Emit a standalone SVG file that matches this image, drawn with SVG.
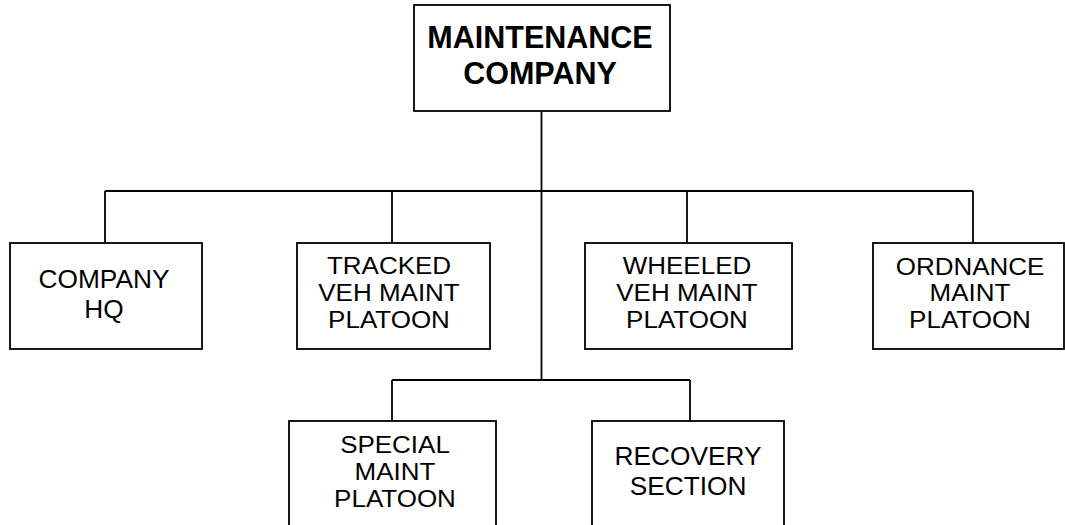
<svg xmlns="http://www.w3.org/2000/svg" width="1065" height="525" viewBox="0 0 1065 525">
<style>
.box{fill:#fff;stroke:#000;stroke-width:1.8}
.ln{fill:none;stroke:#000;stroke-width:1.8}
text{font-family:"Liberation Sans",Arial,sans-serif;fill:#000;text-anchor:middle}
.t{font-size:25.5px}
.s{font-size:23px}
.b{font-size:30.5px;font-weight:bold}
</style>
<rect width="1065" height="525" fill="#fff"/>
<g id="connectors">
<path class="ln" d="M541.5,111 V380"/>
<path class="ln" d="M105,191 H973"/>
<path class="ln" d="M105,191 V243 M392,191 V243 M687,191 V243 M973,191 V243"/>
<path class="ln" d="M392,380 H690 M392,380 V421 M690,380 V421"/>
</g>
<g id="maintenance-company">
<rect class="box" x="414" y="5" width="256" height="106"/>
<text class="b" x="540" y="48">MAINTENANCE</text>
<text class="b" x="540" y="84">COMPANY</text>
</g>
<g id="company-hq">
<rect class="box" x="10" y="243" width="192" height="106"/>
<g transform="translate(104,0) scale(1.03,1)">
<text class="t" x="0" y="288">COMPANY</text>
<text class="t" x="0" y="318">HQ</text>
</g>
</g>
<g id="tracked">
<rect class="box" x="297" y="243" width="193" height="106"/>
<g transform="translate(389,0) scale(1.13,1)">
<text class="s" x="0" y="274">TRACKED</text>
<text class="s" x="0" y="301">VEH MAINT</text>
<text class="s" x="0" y="328">PLATOON</text>
</g>
</g>
<g id="wheeled">
<rect class="box" x="585" y="243" width="207" height="106"/>
<g transform="translate(687,0) scale(1.13,1)">
<text class="s" x="0" y="274">WHEELED</text>
<text class="s" x="0" y="301">VEH MAINT</text>
<text class="s" x="0" y="328">PLATOON</text>
</g>
</g>
<g id="ordnance">
<rect class="box" x="873" y="243" width="191" height="106"/>
<g transform="translate(970,0) scale(1.13,1)">
<text class="s" x="0" y="275">ORDNANCE</text>
<text class="s" x="0" y="301">MAINT</text>
<text class="s" x="0" y="328">PLATOON</text>
</g>
</g>
<g id="special">
<rect class="box" x="289" y="421" width="207" height="106"/>
<g transform="translate(395,0) scale(1.13,1)">
<text class="s" x="0" y="453">SPECIAL</text>
<text class="s" x="0" y="480">MAINT</text>
<text class="s" x="0" y="507">PLATOON</text>
</g>
</g>
<g id="recovery">
<rect class="box" x="592" y="421" width="192" height="106"/>
<g transform="translate(688,0) scale(1.03,1)">
<text class="t" x="0" y="465">RECOVERY</text>
<text class="t" x="0" y="495">SECTION</text>
</g>
</g>
</svg>
